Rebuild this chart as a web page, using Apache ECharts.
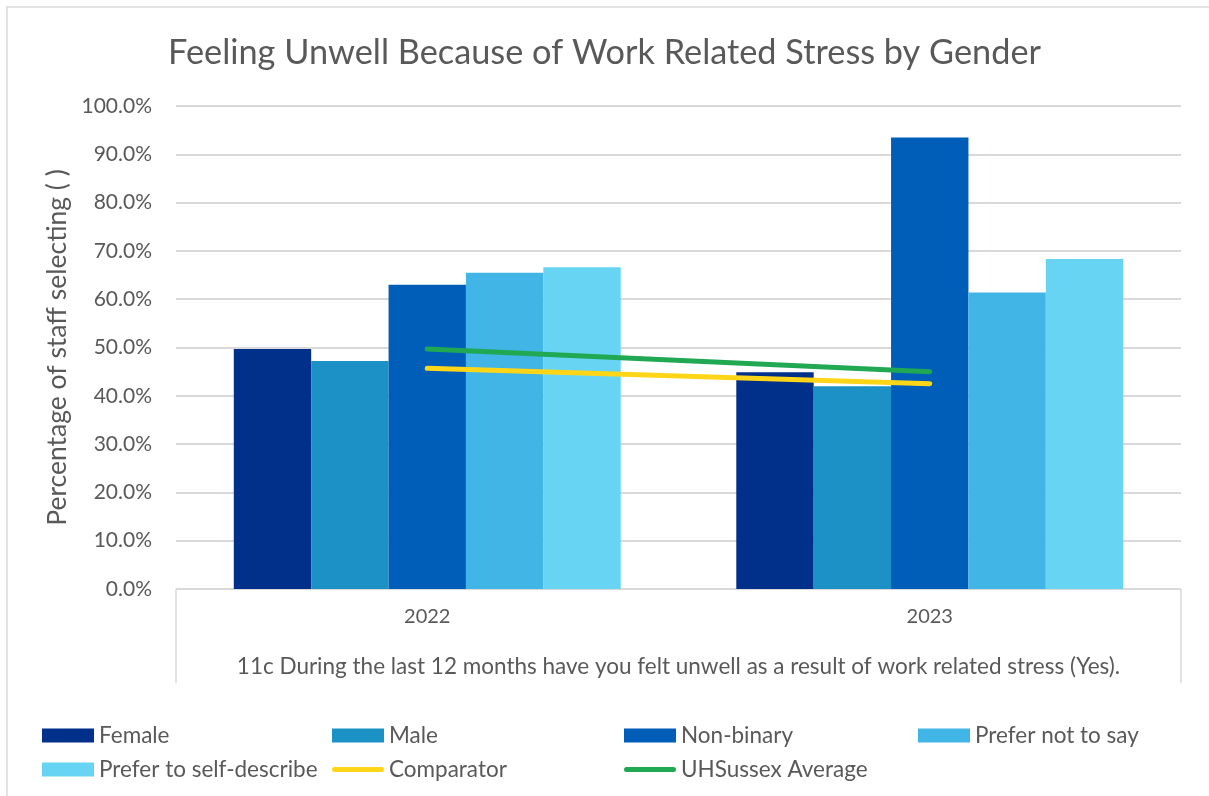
<!DOCTYPE html>
<html>
<head>
<meta charset="utf-8">
<script src="https://cdn.jsdelivr.net/npm/echarts@6/dist/echarts.min.js"></script>
<style>
html,body{margin:0;padding:0;background:#fff;}
#chart{width:1209px;height:796px;}
</style>
</head>
<body>
<div id="chart"></div>
<script>
const categories = ['2022', '2023'];
const female = [49.7, 44.9];
const male = [47.2, 42.0];
const nonBinary = [63.0, 93.5];
const preferNotToSay = [65.5, 61.4];
const preferToSelfDescribe = [66.6, 68.3];
const comparator = [45.7, 42.5];
const uhsussexAverage = [49.7, 45.0];
const yTicks = [0, 10, 20, 30, 40, 50, 60, 70, 80, 90, 100];

const FONT = 'Lato';
const TXT = '#595959';
const GRID = {left: 176, right: 28, top: 106, bottom: 207};

const chart = echarts.init(document.getElementById('chart'), null, {renderer: 'canvas'});

function bar(name, data, color) {
  return {
    name: name, type: 'bar', data: data,
    barGap: '0%', barCategoryGap: '23%',
    itemStyle: {color: color},
    z: 2
  };
}
function line(name, data, color) {
  return {
    name: name, type: 'line', data: data,
    symbol: 'none',
    lineStyle: {color: color, width: 5, cap: 'round'},
    itemStyle: {color: color},
    z: 5
  };
}

// thick rounded line legend icon (invisible hairlines keep the 52x14 box unscaled)
const LINE_ICON = 'path://M0,0L52,0L52,0.01L0,0.01Z' +
  'M2.5,4.5L49.5,4.5A2.5,2.5 0 0 1 49.5,9.5L2.5,9.5A2.5,2.5 0 0 1 2.5,4.5Z' +
  'M0,13.99L52,13.99L52,14L0,14Z';

const legendBase = {
  orient: 'vertical', padding: 0,
  itemWidth: 52, itemHeight: 14, itemGap: 11,
  textStyle: {color: TXT, fontFamily: FONT, fontSize: 22.5, lineHeight: 20},
  top: 724
};

const option = {
  backgroundColor: '#fff',
  animation: false,
  title: {
    text: 'Feeling Unwell Because of Work Related Stress by Gender',
    left: 'center', top: 31,
    textStyle: {color: TXT, fontFamily: FONT, fontSize: 34.3, fontWeight: 'normal'}
  },
  grid: GRID,
  legend: [
    Object.assign({}, legendBase, {left: 42, data: [{name: 'Female', icon: 'rect'}, {name: 'Prefer to self-describe', icon: 'rect'}]}),
    Object.assign({}, legendBase, {left: 332, data: [{name: 'Male', icon: 'rect'}, {name: 'Comparator', icon: LINE_ICON}]}),
    Object.assign({}, legendBase, {left: 624, data: [{name: 'Non-binary', icon: 'rect'}, {name: 'UHSussex Average', icon: LINE_ICON}]}),
    Object.assign({}, legendBase, {left: 918, data: [{name: 'Prefer not to say', icon: 'rect'}]})
  ],
  xAxis: {
    type: 'category', data: categories,
    boundaryGap: true,
    axisLine: {lineStyle: {color: '#D9D9D9', width: 1}},
    axisTick: {show: false},
    axisLabel: {color: TXT, fontFamily: FONT, fontSize: 20, margin: 18},
    name: '11c During the last 12 months have you felt unwell as a result of work related stress (Yes).',
    nameLocation: 'middle', nameGap: 66,
    nameTextStyle: {color: TXT, fontFamily: FONT, fontSize: 22.5}
  },
  yAxis: {
    type: 'value', min: yTicks[0], max: yTicks[yTicks.length - 1], interval: yTicks[1] - yTicks[0],
    axisLine: {show: false}, axisTick: {show: false},
    splitLine: {lineStyle: {color: '#D9D9D9', width: 2}},
    axisLabel: {color: TXT, fontFamily: FONT, fontSize: 21, margin: 24,
      formatter: v => v.toFixed(1) + '%'},
    name: 'Percentage of staff selecting ( )',
    nameLocation: 'middle', nameGap: 104, nameRotate: 90,
    nameTextStyle: {color: TXT, fontFamily: FONT, fontSize: 26.5}
  },
  series: [
    bar('Female', female, '#00308A'),
    bar('Male', male, '#1C91C5'),
    bar('Non-binary', nonBinary, '#005EB8'),
    bar('Prefer not to say', preferNotToSay, '#41B5E5'),
    bar('Prefer to self-describe', preferToSelfDescribe, '#66D4F2'),
    line('Comparator', comparator, '#FFD617'),
    line('UHSussex Average', uhsussexAverage, '#21A853')
  ]
};
chart.setOption(option);

// frame decorations: outer border + category-axis side lines
const W = 1209, H = 796;
const axisY = H - GRID.bottom;
chart.setOption({
  graphic: [
    {type: 'rect', shape: {x: 7, y: 7, width: W + 20, height: H + 20}, style: {fill: 'none', stroke: '#D9D9D9', lineWidth: 1.5}, silent: true, z: -1},
    {type: 'line', shape: {x1: GRID.left, y1: axisY, x2: GRID.left, y2: axisY + 94}, style: {stroke: '#D9D9D9', lineWidth: 1.5}, silent: true},
    {type: 'line', shape: {x1: W - GRID.right, y1: axisY, x2: W - GRID.right, y2: axisY + 94}, style: {stroke: '#D9D9D9', lineWidth: 1.5}, silent: true}
  ]
});
</script>
</body>
</html>
